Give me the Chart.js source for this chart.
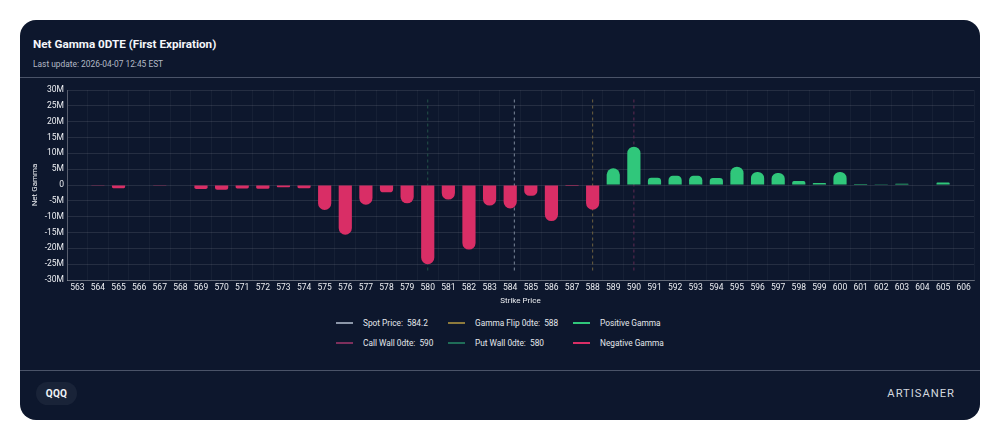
<!DOCTYPE html>
<html>
<head>
<meta charset="utf-8">
<title>Net Gamma 0DTE</title>
<script src="https://cdn.jsdelivr.net/npm/chart.js@4"></script>
<style>
html,body{margin:0;padding:0;background:#fff;width:1000px;height:440px;overflow:hidden}
body{font-family:Roboto,sans-serif;position:relative}
.card{position:absolute;left:20px;top:20px;width:960px;height:400px;background:#0d172d;border-radius:16px;overflow:hidden;color:#fff}
.title{position:absolute;left:13px;top:17px;font-size:11.7px;font-weight:700;line-height:14px;color:#f4f6fa}
.sub{position:absolute;left:13px;top:39px;font-size:8.4px;line-height:11px;color:#b3b9c5}
.rule{position:absolute;left:0;width:960px;height:1px;background:#4a5368}
#wrap{position:absolute;left:0;top:58px;width:960px;height:232px}
#legend{position:absolute;left:316px;top:293px;display:grid;grid-template-columns:112px 125px auto;grid-auto-rows:20px;font-size:8.3px;color:#e4e7ec}
.item{display:flex;align-items:center;white-space:pre}
.sw{display:inline-block;width:17px;margin-right:10px}
.pill{position:absolute;left:16px;top:362px;width:41px;height:23px;border-radius:12px;background:#192338;font-size:10px;font-weight:700;line-height:23px;text-align:center;color:#f0f2f6;letter-spacing:.3px}
.brand{position:absolute;right:25px;top:367px;font-size:11.2px;font-weight:400;line-height:14px;letter-spacing:1px;color:#d3d7df}
</style>
</head>
<body>
<div class="card">
  <div class="title">Net Gamma 0DTE (First Expiration)</div>
  <div class="sub">Last update: 2026-04-07 12:45 EST</div>
  <div class="rule" style="top:57px"></div>
  <div id="wrap"><canvas id="gamma-chart"></canvas></div>
  <div id="legend"></div>
  <div class="rule" style="top:350px"></div>
  <div class="pill">QQQ</div>
  <div class="brand">ARTISANER</div>
</div>
<script>
// ===== data, in millions =====
const STRIKES=[563,564,565,566,567,568,569,570,571,572,573,574,575,576,577,578,579,580,581,582,583,584,585,586,587,588,589,590,591,592,593,594,595,596,597,598,599,600,601,602,603,604,605,606];
const NET_GAMMA=[0,-0.2,-1.0,0,-0.2,0,-1.3,-1.5,-1.1,-1.2,-0.7,-1.0,-7.9,-15.7,-6.2,-2.3,-5.8,-25,-4.6,-20.4,-6.5,-7.4,-3.4,-11.4,-0.3,-7.8,5.3,12.1,2.3,2.9,2.9,2.2,5.8,4.1,3.8,1.3,0.6,4.1,0.3,0.2,0.4,0,0.8,0];
const Y_TICKS=[-30,-25,-20,-15,-10,-5,0,5,10,15,20,25,30];
const LEVEL_NAMES=['Spot Price','Call Wall 0dte','Gamma Flip 0dte','Put Wall 0dte'];
const LEVEL_VALUES=[584.2,590,588,580];
const LEVEL_SPAN=[-27,27];

const COLORS={pos:'#30c77b',neg:'#d92e66',spot:'#7d899c',call:'#5f2a52',flip:'#6d6040',put:'#235249',grid:'rgba(255,255,255,0.10)',gridX:'rgba(255,255,255,0.04)',axis:'rgba(255,255,255,0.28)',text:'#eceef2'};
const LEVEL_COLORS=[COLORS.spot,COLORS.call,COLORS.flip,COLORS.put];

Chart.defaults.font.family='Roboto,sans-serif';
Chart.defaults.color=COLORS.text;

// legend is plain html, three columns
function fmtLevel(i){return `${LEVEL_NAMES[i]}:  ${LEVEL_VALUES[i]}`;}
const legendRows=[
  [fmtLevel(0),'#8b96a8',1.5],[fmtLevel(2),'#8d7a3c',1.5],['Positive Gamma',COLORS.pos,2],
  [fmtLevel(1),'#7d2f5c',1.5],[fmtLevel(3),'#1f6d58',1.5],['Negative Gamma',COLORS.neg,2],
];
document.getElementById('legend').innerHTML=legendRows.map(([t,c,h])=>`<div class="item"><span class="sw" style="height:${h}px;background:${c}"></span>${t}</div>`).join('');

const levelSets=LEVEL_NAMES.map((name,i)=>({
  type:'scatter',label:name,xAxisID:'xLevel',order:2,showLine:true,
  data:LEVEL_SPAN.map(y=>({x:LEVEL_VALUES[i],y})),
  borderColor:LEVEL_COLORS[i],borderWidth:1,borderDash:[3,3],pointRadius:0,
}));
const barCommon={type:'bar',order:1,grouped:false,barPercentage:0.64,categoryPercentage:1,borderRadius:7,borderSkipped:'start',borderWidth:0};

new Chart(document.getElementById('gamma-chart'),{
  data:{labels:STRIKES,datasets:[
    {...barCommon,label:'Positive Gamma',data:NET_GAMMA.map(v=>v>0?v:null),backgroundColor:COLORS.pos},
    {...barCommon,label:'Negative Gamma',data:NET_GAMMA.map(v=>v<0?v:null),backgroundColor:COLORS.neg},
    ...levelSets,
  ]},
  options:{responsive:true,maintainAspectRatio:false,animation:false,
    layout:{padding:{top:12,right:6,left:0,bottom:0}},
    plugins:{legend:{display:false},tooltip:{enabled:false}},
    scales:{
      x:{type:'category',offset:true,
        grid:{color:COLORS.gridX,drawTicks:false},border:{color:COLORS.axis},
        ticks:{autoSkip:false,maxRotation:0,padding:3,font:{size:8.5},color:COLORS.text},
        title:{display:true,text:'Strike Price',font:{size:8},color:COLORS.text,padding:{top:0,bottom:4}},
        afterFit:s=>{s.height=30;}},
      xLevel:{type:'linear',display:false,min:STRIKES[0]-0.5,max:STRIKES[STRIKES.length-1]+0.5},
      y:{min:-30,max:30,
        grid:{color:COLORS.grid,drawTicks:false},border:{color:COLORS.axis},
        afterBuildTicks:s=>{s.ticks=Y_TICKS.map(value=>({value}));},
        ticks:{padding:3,font:{size:8.5},color:COLORS.text,callback:v=>v===0?'0':`${v}M`},
        title:{display:true,text:'Net Gamma',font:{size:8},color:COLORS.text,padding:{top:10,bottom:0}},
        afterFit:s=>{s.width=47;}},
    }
  }
});
</script>
</body>
</html>
